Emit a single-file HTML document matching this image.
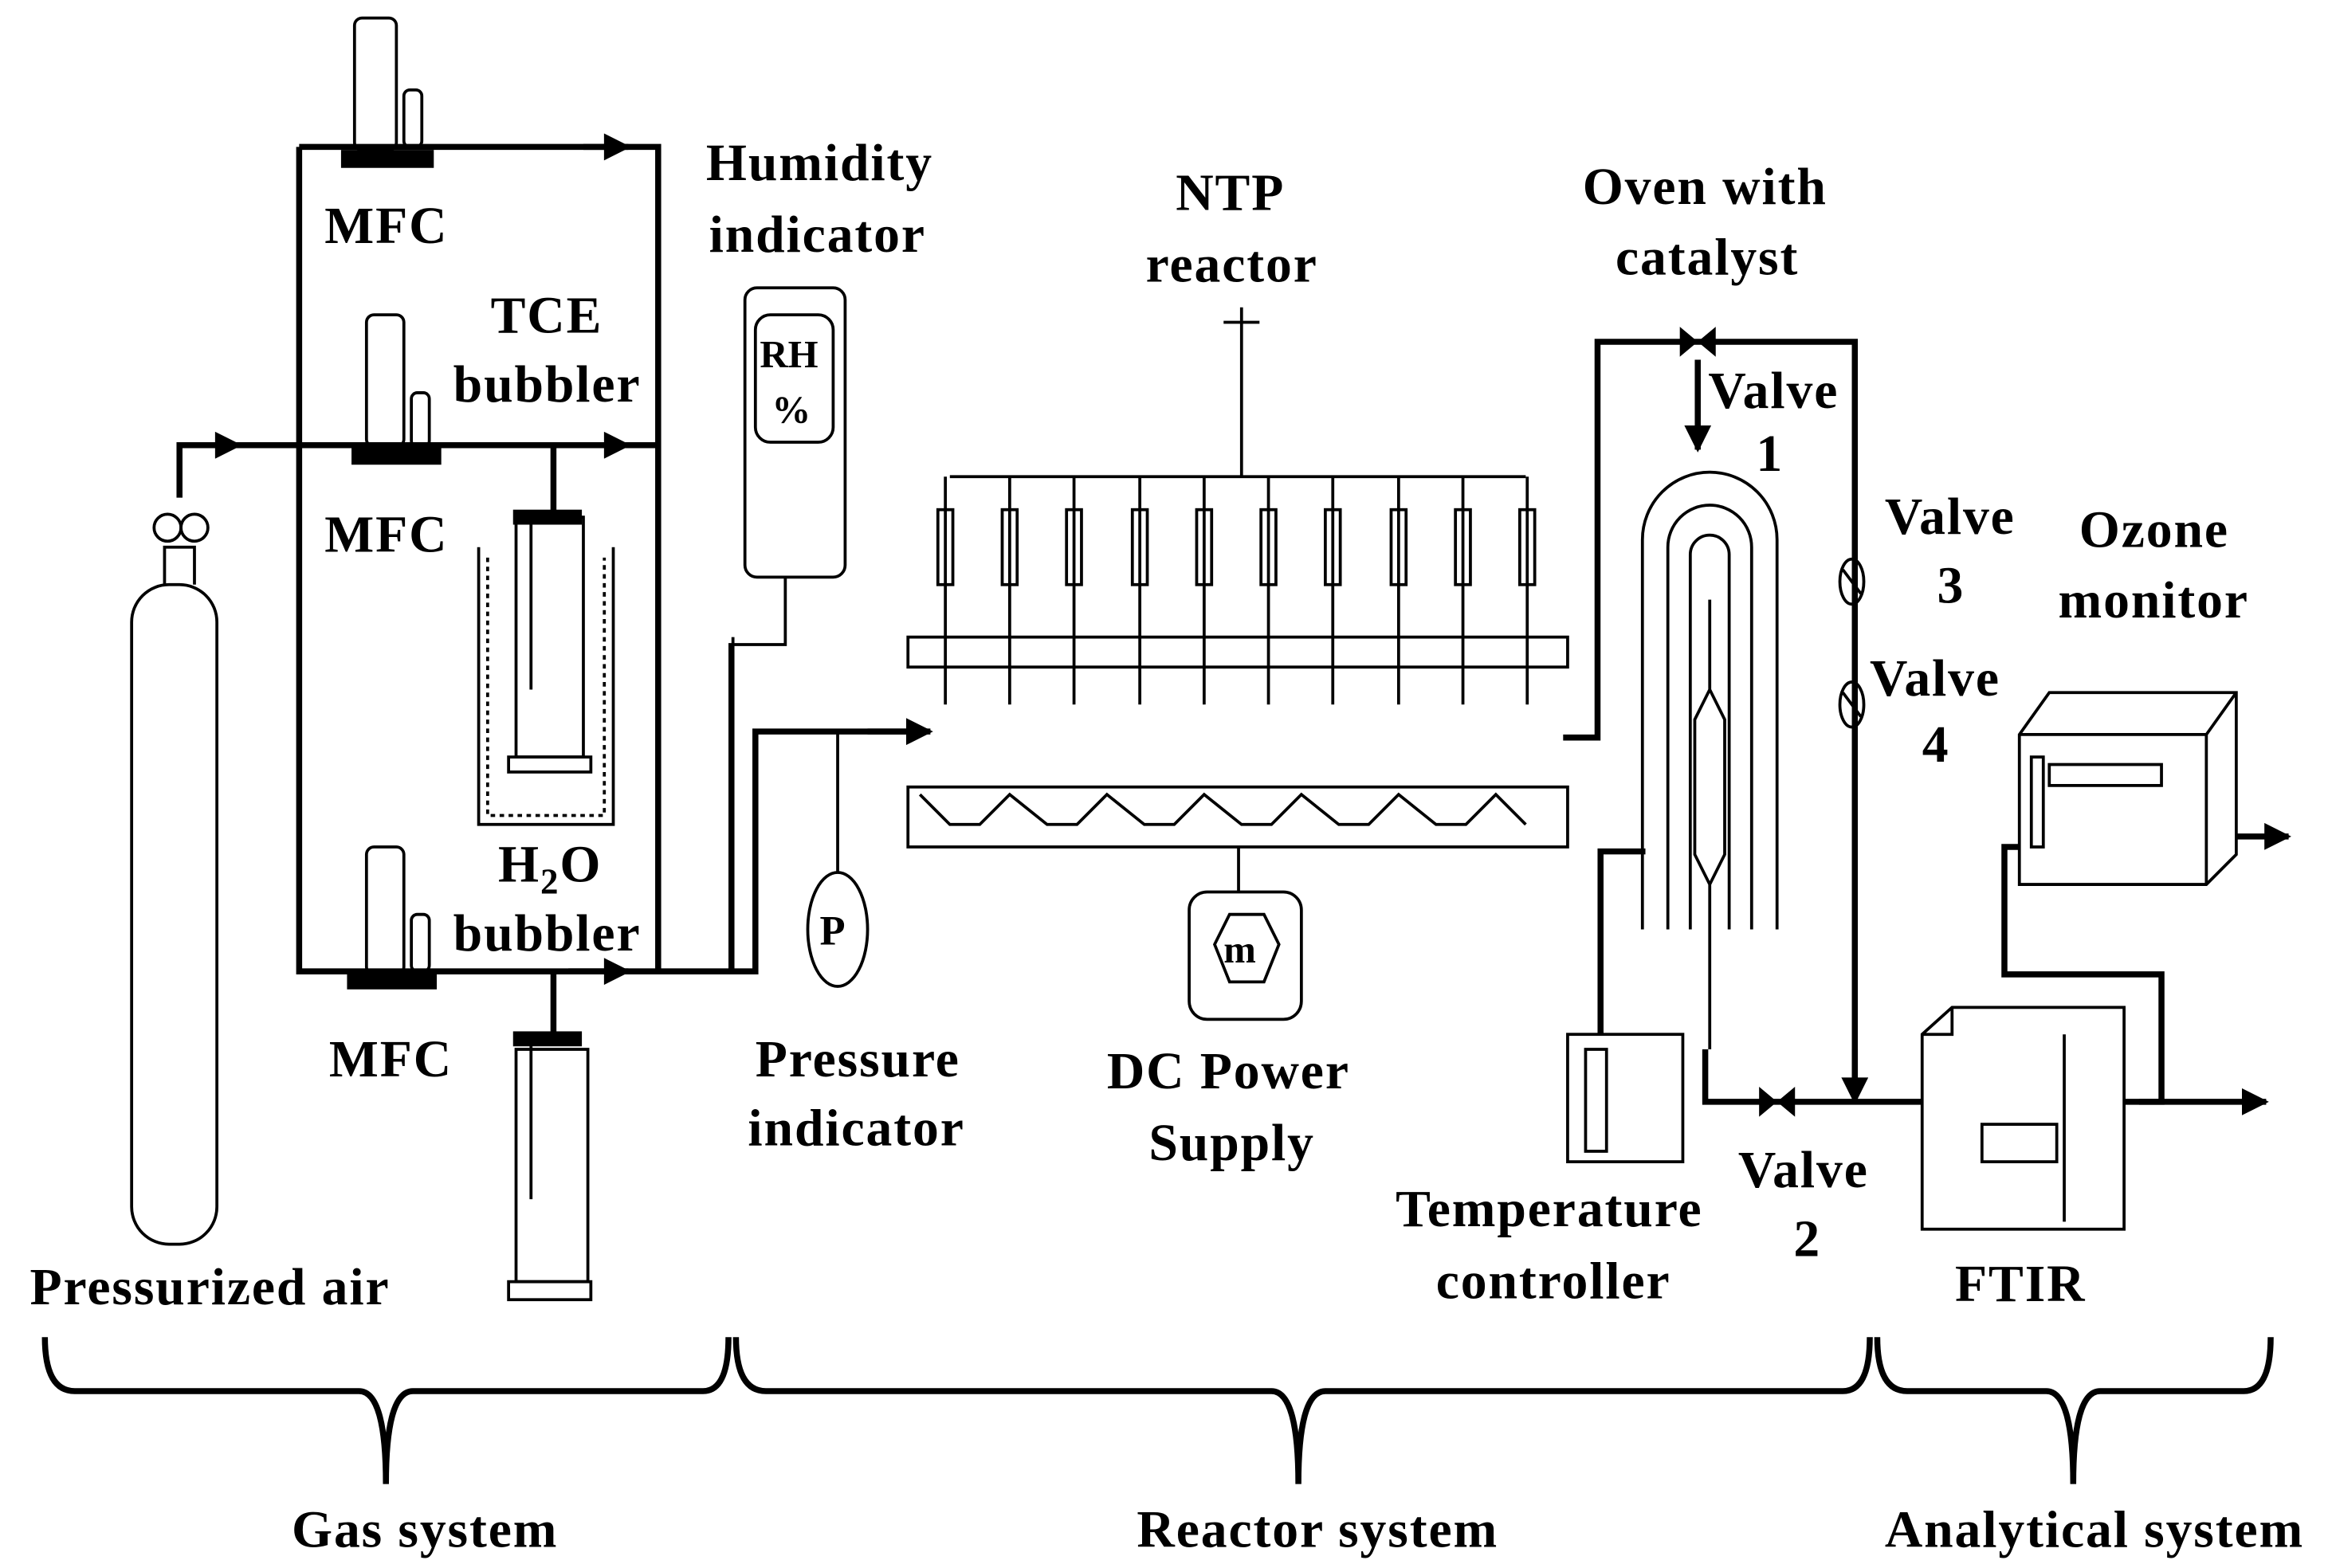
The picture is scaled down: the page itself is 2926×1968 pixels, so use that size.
<!DOCTYPE html>
<html><head><style>html,body{margin:0;padding:0;background:#fff}svg{display:block}</style></head><body>
<svg width="2926" height="1968" viewBox="0 0 1559 1046" preserveAspectRatio="none" xmlns="http://www.w3.org/2000/svg" font-family="Liberation Serif, serif" font-weight="bold" font-size="35" letter-spacing="1">
<defs><marker id="b" viewBox="0 0 10 10" markerWidth="24" markerHeight="18" refX="9" refY="5" orient="auto" markerUnits="userSpaceOnUse"><path d="M0,0 L10,5 L0,10z"/></marker></defs>
<g fill="none" stroke="#000" stroke-width="4">
<path d="M200,98 H440 V648 M200,98 V648 H505 V488 H620 M120,332 V297 H440"/>
<path d="M380,648 H420" marker-end="url(#b)"/>
<path d="M390,98 H420" marker-end="url(#b)"/>
<path d="M390,297 H420" marker-end="url(#b)"/>
<path d="M130,297 H160" marker-end="url(#b)"/>
<path d="M580,488 H622" marker-end="url(#b)"/>
<path d="M370,297 V345 M370,648 V690"/>
<path d="M1045,492 H1068 V228 H1240 V735 M1140,700 V735 H1285 M1420,735 H1445 V650 H1340 V565 H1350"/>
<path d="M1240,700 V735" marker-end="url(#b)"/>
<path d="M1430,735 H1515" marker-end="url(#b)"/>
<path d="M1495,558 H1530" marker-end="url(#b)"/>
<path d="M1135,240 V300" marker-end="url(#b)"/>
<path d="M1070,690 V568 H1100"/>
</g>
<g fill="none" stroke="#000" stroke-width="2">
<rect x="88" y="390" width="57" height="440" rx="25"/>
<path d="M110,390 V365 H130 V390"/><circle cx="112" cy="352" r="9"/><circle cx="130" cy="352" r="9"/>
<rect x="237" y="12" width="28" height="88" rx="5"/><rect x="270" y="60" width="12" height="38" rx="4"/>
<rect x="245" y="210" width="25" height="88" rx="5"/><rect x="275" y="262" width="12" height="36" rx="4"/>
<rect x="245" y="565" width="25" height="85" rx="5"/><rect x="275" y="610" width="12" height="38" rx="4"/>
<path d="M320,365 V550 H410 V365"/><path d="M326,372 V544 H404 V372" stroke-dasharray="3,3"/>
<rect x="345" y="345" width="45" height="160"/>
<path d="M355,345 V460"/><rect x="340" y="505" width="55" height="10"/>
<rect x="345" y="700" width="48" height="155"/><rect x="340" y="855" width="55" height="12"/>
<path d="M355,690 V800"/>
<rect x="498" y="192" width="67" height="193" rx="8"/><rect x="505" y="210" width="52" height="85" rx="10"/>
<path d="M488,650 V430 H495 M490,650 V425 M525,385 V430 H495"/>
<ellipse cx="560" cy="620" rx="20" ry="38"/><path d="M560,582 V488"/>
<path d="M635,318 H1020 M830,318 V215 M818,215 H842 M830,205 V225"/>
<rect x="607" y="425" width="441" height="20"/>
<path d="M607,525 H1048 V565 H607 Z"/>
<path d="M615,530 L635,550 L655,550 L675,530 L700,550 L720,550 L740,530 L765,550 L785,550 L805,530 L830,550 L850,550 L870,530 L895,550 L915,550 L935,530 L960,550 L980,550 L1000,530 L1020,550"/>
<path d="M828,565 V595"/>
<rect x="795" y="595" width="75" height="85" rx="12"/><path d="M812,630 L822,610 H845 L855,630 L845,655 H822 Z"/>
<path d="M1098,620 V360 A45,45 0 0 1 1188,360 V620 M1115,620 V365 A28,28 0 0 1 1171,365 V620 M1130,620 V370 A13,13 0 0 1 1156,370 V620"/>
<path d="M1143,460 L1133,480 V570 L1143,590 L1153,570 V480 Z M1143,400 V460 M1143,590 V700"/>
<rect x="1048" y="690" width="77" height="85"/><rect x="1060" y="700" width="14" height="68"/>
<path d="M1285,690 L1305,672 H1420 V820 H1285 Z M1305,672 V690 H1285"/><rect x="1325" y="750" width="50" height="25"/><path d="M1380,690 V815"/>
<path d="M1350,490 L1370,462 H1495 V570 L1475,590 H1350 Z M1350,490 H1475 V590 M1475,490 L1495,462"/><rect x="1370" y="510" width="75" height="14"/><rect x="1358" y="505" width="8" height="60"/>
</g>
<g fill="#000">
<rect x="228" y="100" width="62" height="12"/><rect x="235" y="298" width="60" height="12"/><rect x="232" y="648" width="60" height="12"/>
<rect x="343" y="340" width="46" height="10"/><rect x="343" y="688" width="46" height="10"/>
<path d="M1123,218 L1147,238 V218 L1123,238Z"/><path d="M1176,725 L1200,745 V725 L1176,745Z"/>
</g>
<g fill="none" stroke="#000" stroke-width="2"><ellipse cx="1238" cy="388" rx="8" ry="15"/><ellipse cx="1238" cy="470" rx="8" ry="15"/><path d="M1232,380 L1244,396 M1232,462 L1244,478"/></g>
<g fill="#fff" stroke="#000" stroke-width="2">
<rect x="627" y="340" width="10" height="50"/><rect x="670" y="340" width="10" height="50"/><rect x="713" y="340" width="10" height="50"/><rect x="757" y="340" width="10" height="50"/><rect x="800" y="340" width="10" height="50"/><rect x="843" y="340" width="10" height="50"/><rect x="886" y="340" width="10" height="50"/><rect x="930" y="340" width="10" height="50"/><rect x="973" y="340" width="10" height="50"/><rect x="1016" y="340" width="10" height="50"/>
</g>
<g stroke="#000" stroke-width="2" fill="none"><path d="M632,318 V470 M675,318 V470 M718,318 V470 M762,318 V470 M805,318 V470 M848,318 V470 M891,318 V470 M935,318 V470 M978,318 V470 M1021,318 V470"/></g>
<g fill="none" stroke="#000" stroke-width="4">
<path d="M30,892 Q30,928 50,928 H240 Q258,928 258,990 Q258,928 276,928 H470 Q487,928 487,892"/>
<path d="M492,892 Q492,928 512,928 H850 Q868,928 868,990 Q868,928 886,928 H1232 Q1250,928 1250,892"/>
<path d="M1255,892 Q1255,928 1275,928 H1368 Q1386,928 1386,990 Q1386,928 1404,928 H1500 Q1518,928 1518,892"/>
</g>
<g fill="#000">
<text x="217" y="162">MFC</text><text x="217" y="368">MFC</text><text x="220" y="718">MFC</text>
<text x="328" y="222">TCE</text><text x="303" y="268">bubbler</text>
<text x="333" y="588">H<tspan font-size="24" dy="8">2</tspan><tspan dy="-8">O</tspan></text><text x="303" y="634">bubbler</text>
<text x="20" y="870">Pressurized air</text>
<text x="472" y="120">Humidity</text><text x="474" y="168">indicator</text>
<text x="508" y="245" font-size="26" letter-spacing="0">RH</text><text x="516" y="282" font-size="26">%</text>
<text x="548" y="630" font-size="28">P</text>
<text x="505" y="718">Pressure</text><text x="500" y="764">indicator</text>
<text x="786" y="140">NTP</text><text x="766" y="188">reactor</text>
<text x="818" y="642" font-size="26">m</text>
<text x="740" y="726">DC Power</text><text x="768" y="774">Supply</text>
<text x="1058" y="136">Oven with</text><text x="1080" y="183">catalyst</text>
<text x="1142" y="272">Valve</text><text x="1174" y="314">1</text>
<text x="1260" y="356">Valve</text><text x="1295" y="402">3</text>
<text x="1250" y="464">Valve</text><text x="1285" y="508">4</text>
<text x="1390" y="365">Ozone</text><text x="1376" y="412">monitor</text>
<text x="1162" y="792">Valve</text><text x="1199" y="838">2</text>
<text x="933" y="818">Temperature</text><text x="960" y="866">controller</text>
<text x="1307" y="868">FTIR</text>
<text x="195" y="1032">Gas system</text><text x="760" y="1032">Reactor system</text><text x="1260" y="1032">Analytical system</text>
</g>
</svg>
</body></html>
